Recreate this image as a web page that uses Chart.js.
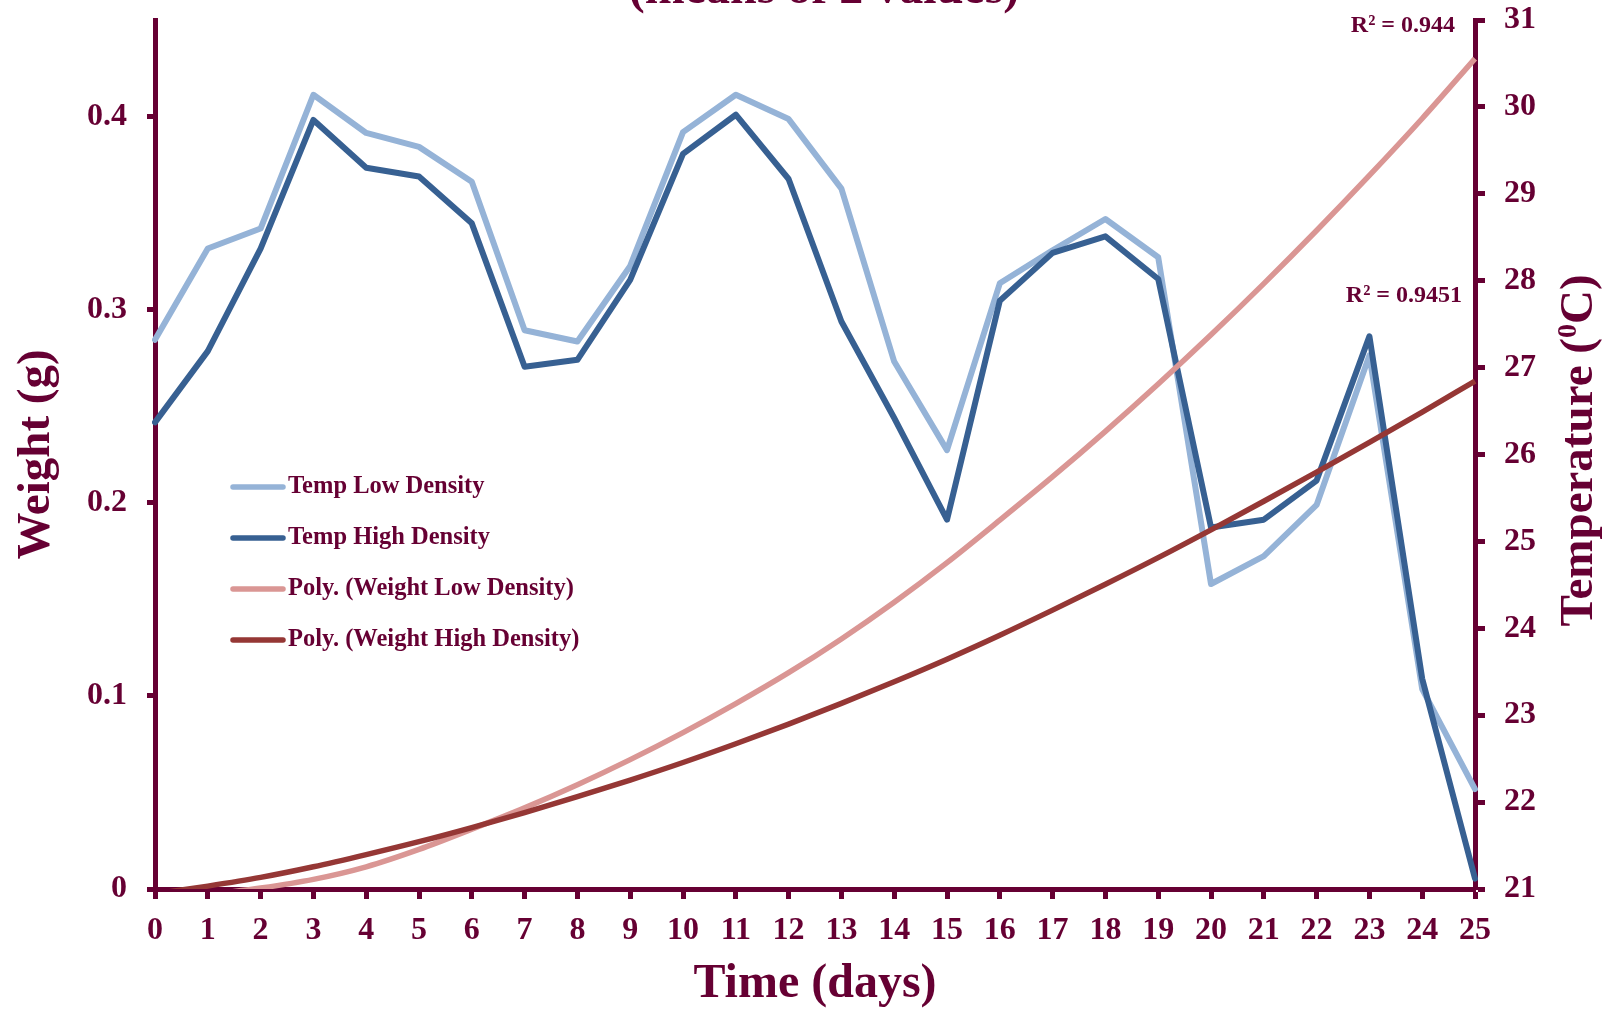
<!DOCTYPE html>
<html>
<head>
<meta charset="utf-8">
<title>Temperature and weight over time</title>
<script src="https://cdn.jsdelivr.net/npm/chart.js@4.4.1/dist/chart.umd.min.js"></script>
<style>
  html, body { margin: 0; padding: 0; background: #ffffff; }
  canvas { display: block; }
</style>
</head>
<body>
<canvas id="chart" width="1608" height="1011"></canvas>
<script>
// Time axis (days)
const days = ['0','1','2','3','4','5','6','7','8','9','10','11','12','13','14','15','16','17','18','19','20','21','22','23','24','25'];

// Temperature (°C), right axis
const tempLowDensity  = [27.32, 28.37, 28.60, 30.14, 29.70, 29.54, 29.14, 27.43, 27.30, 28.17, 29.71, 30.14, 29.86,
                         29.06, 27.07, 26.05, 27.97, 28.35, 28.71, 28.27, 24.51, 24.83, 25.42, 27.14, 23.30, 22.15];
const tempHighDensity = [26.37, 27.19, 28.37, 29.85, 29.30, 29.20, 28.66, 27.01, 27.09, 28.01, 29.46, 29.91, 29.17,
                         27.53, 26.42, 25.25, 27.77, 28.32, 28.51, 28.02, 25.16, 25.25, 25.70, 27.36, 23.42, 21.12];

// Polynomial trend of weight (g), left axis
const weightLowFit  = [null, -0.003, 0.0005, 0.005, 0.0115, 0.0205, 0.031, 0.042, 0.054, 0.067, 0.081, 0.096, 0.112,
                       0.1295, 0.1485, 0.169, 0.191, 0.2135, 0.237, 0.2615, 0.287, 0.3135, 0.341, 0.3695, 0.399, 0.430];
const weightHighFit = [-0.0025, 0.0015, 0.006, 0.0115, 0.0178, 0.0245, 0.0318, 0.0396, 0.0478, 0.0564, 0.0655, 0.0752, 0.0854,
                       0.0961, 0.1073, 0.119, 0.1314, 0.1444, 0.1578, 0.1716, 0.186, 0.2008, 0.2159, 0.2313, 0.247, 0.263];

// Tick labels
const weightTicks = [0, 0.1, 0.2, 0.3, 0.4];
const tempTicks = [21, 22, 23, 24, 25, 26, 27, 28, 29, 30, 31];

// Text
const seriesNames = ['Temp Low Density', 'Temp High Density', 'Poly. (Weight Low Density)', 'Poly. (Weight High Density)'];
const rSquaredLabels = ['R\u00B2 = 0.944', 'R\u00B2 = 0.9451'];
const subtitle = '(means of 2 values)';

const maroon = '#660033';
const serif = "'Liberation Serif', 'Times New Roman', serif";
const colors = ['#95b3d7', '#376092', '#da9694', '#953735'];

// Legend, subtitle, R² labels and the right-hand axis title
const annotations = {
  id: 'annotations',
  afterDraw(chart) {
    const { ctx, chartArea: a, scales } = chart;
    ctx.save();
    ctx.fillStyle = maroon;

    ctx.font = `bold 48px ${serif}`;
    ctx.textAlign = 'center';
    ctx.textBaseline = 'alphabetic';
    ctx.fillText(subtitle, (a.left + a.right) / 2 + 9, 3);

    ctx.font = `bold 24px ${serif}`;
    ctx.textAlign = 'right';
    ctx.fillText(rSquaredLabels[0], a.right - 20, scales.y1.getPixelForValue(30.86));
    ctx.fillText(rSquaredLabels[1], a.right - 13, scales.y1.getPixelForValue(27.75));

    // legend rows
    const lx = a.left + 78, ly = 487, row = 51;
    ctx.font = `bold 24.5px ${serif}`;
    ctx.textAlign = 'left';
    ctx.textBaseline = 'middle';
    chart.data.datasets.forEach((ds, i) => {
      const y = ly + row * i;
      ctx.strokeStyle = ds.borderColor;
      ctx.lineWidth = 5.5;
      ctx.lineCap = 'round';
      ctx.beginPath();
      ctx.moveTo(lx, y);
      ctx.lineTo(lx + 50, y);
      ctx.stroke();
      ctx.fillStyle = maroon;
      ctx.fillText(ds.label, lx + 55, y);
    });

    // right axis title, reading bottom to top, with a raised 0
    ctx.translate(chart.width - 32, (a.top + a.bottom) / 2 - 4);
    ctx.rotate(-Math.PI / 2);
    ctx.textBaseline = 'alphabetic';
    ctx.textAlign = 'left';
    const big = `bold 47px ${serif}`, small = `bold 28px ${serif}`;
    const p1 = 'Temperature (', p2 = '0', p3 = 'C)';
    ctx.font = big; const w1 = ctx.measureText(p1).width, w3 = ctx.measureText(p3).width;
    ctx.font = small; const w2 = ctx.measureText(p2).width;
    let x = -(w1 + w2 + w3) / 2;
    const base = 16;
    ctx.font = big; ctx.fillText(p1, x, base); x += w1;
    ctx.font = small; ctx.fillText(p2, x, base - 16); x += w2;
    ctx.font = big; ctx.fillText(p3, x, base);
    ctx.restore();
  }
};

const tickFont = { family: serif, size: 32, weight: 'bold' };
const axisTitleFont = { family: serif, size: 47, weight: 'bold', lineHeight: 1.2 };
const clipBottom = { left: 6, right: 6, top: 6, bottom: 0 };
const noPad = s => { s.paddingTop = 0; s.paddingBottom = 0; s.paddingLeft = 0; s.paddingRight = 0; };

new Chart(document.getElementById('chart'), {
  type: 'line',
  data: {
    labels: days,
    datasets: [
      { label: seriesNames[0], data: tempLowDensity, yAxisID: 'y1', borderColor: colors[0], borderWidth: 6,
        order: 4, tension: 0, pointRadius: 0, borderJoinStyle: 'round', borderCapStyle: 'round' },
      { label: seriesNames[1], data: tempHighDensity, yAxisID: 'y1', borderColor: colors[1], borderWidth: 6,
        order: 3, tension: 0, pointRadius: 0, borderJoinStyle: 'round', borderCapStyle: 'round' },
      { label: seriesNames[2], data: weightLowFit, yAxisID: 'y', borderColor: colors[2], borderWidth: 5.5,
        order: 2, cubicInterpolationMode: 'monotone', pointRadius: 0, clip: clipBottom },
      { label: seriesNames[3], data: weightHighFit, yAxisID: 'y', borderColor: colors[3], borderWidth: 5.5,
        order: 1, cubicInterpolationMode: 'monotone', pointRadius: 0, clip: clipBottom }
    ]
  },
  options: {
    responsive: false,
    animation: false,
    devicePixelRatio: 1,
    layout: { padding: { top: 20, left: 0, right: 0, bottom: 0 } },
    plugins: {
      legend: { display: false },
      tooltip: { enabled: false },
      title: { display: false }
    },
    scales: {
      x: {
        type: 'category',
        offset: false,
        grid: { drawOnChartArea: false, drawTicks: true, tickLength: 10, tickWidth: 5, tickColor: maroon },
        border: { display: true, width: 5, color: maroon },
        ticks: { font: tickFont, color: maroon, padding: 13, autoSkip: false, maxRotation: 0 },
        title: { display: true, text: 'Time (days)', color: maroon,
                 font: { family: serif, size: 48, weight: 'bold', lineHeight: 1.1 }, padding: { top: 0, bottom: 0 } },
        afterFit: s => { s.height = 122; noPad(s); }
      },
      y: {
        position: 'left',
        min: 0,
        max: 0.45,
        afterBuildTicks: s => { s.ticks = weightTicks.map(v => ({ value: v })); },
        grid: { drawOnChartArea: false, drawTicks: true, tickLength: 8, tickWidth: 5, tickColor: maroon },
        border: { display: true, width: 5, color: maroon },
        ticks: { font: tickFont, color: maroon, padding: 20, callback: v => String(v) },
        title: { display: true, text: 'Weight (g)', color: maroon, font: axisTitleFont, padding: { top: 9, bottom: 0 } },
        afterFit: s => { s.width = 155; noPad(s); }
      },
      y1: {
        position: 'right',
        min: 21,
        max: 31,
        afterBuildTicks: s => { s.ticks = tempTicks.map(v => ({ value: v })); },
        grid: { drawOnChartArea: false, drawTicks: true, tickLength: 10, tickWidth: 5, tickColor: maroon },
        border: { display: true, width: 5, color: maroon },
        ticks: { font: tickFont, color: maroon, padding: 19, callback: v => String(v) },
        afterFit: s => { s.width = 133; noPad(s); }
      }
    }
  },
  plugins: [annotations]
});
</script>
</body>
</html>
